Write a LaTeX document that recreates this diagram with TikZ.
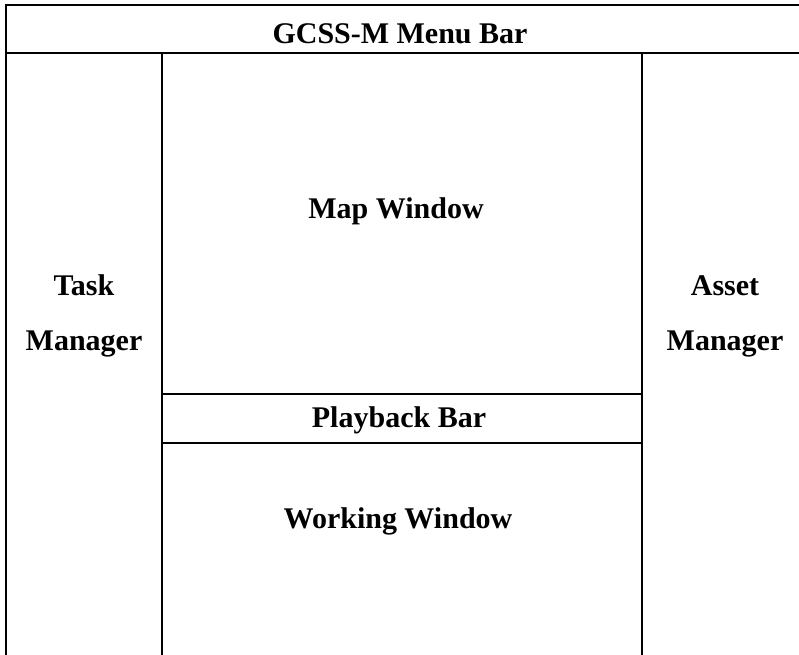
\documentclass[tikz,border=0pt]{standalone}
\usepackage{fontspec}
\setmainfont{Liberation Serif}
\begin{document}
\begin{tikzpicture}[x=0.75pt,y=-0.75pt,
  frame/.style={line width=1.5pt,line cap=rect},
  label/.style={font=\fontsize{22.5}{27}\selectfont\bfseries,anchor=base,inner sep=0pt}]
\useasboundingbox (0,0) rectangle (799,654);
% coordinates of the frame
\coordinate (tl) at (6,5);
\coordinate (tr) at (801,5);
\coordinate (bl) at (6,656);
\coordinate (ml) at (6,53);
\coordinate (mr) at (801,53);
\coordinate (lt) at (162,53);
\coordinate (lb) at (162,656);
\coordinate (rt) at (642,53);
\coordinate (rb) at (642,656);
\coordinate (p1l) at (162,394);
\coordinate (p1r) at (642,394);
\coordinate (p2l) at (162,443);
\coordinate (p2r) at (642,443);
\draw[frame] (bl) -- (tl) -- (tr);
\draw[frame] (ml) -- (mr);
\draw[frame] (lt) -- (lb);
\draw[frame] (rt) -- (rb);
\draw[frame] (p1l) -- (p1r);
\draw[frame] (p2l) -- (p2r);
% labels
\node[label] (menu) at (400,43) {GCSS-M Menu Bar};
\node[label] (map) at (396,218) {Map Window};
\node[label] (task1) at (84,295) {Task};
\node[label] (task2) at (84,350) {Manager};
\node[label] (asset1) at (725,295) {Asset};
\node[label] (asset2) at (725,350) {Manager};
\node[label] (play) at (399,427) {Playback Bar};
\node[label] (work) at (398,528) {Working Window};
\end{tikzpicture}
\end{document}
